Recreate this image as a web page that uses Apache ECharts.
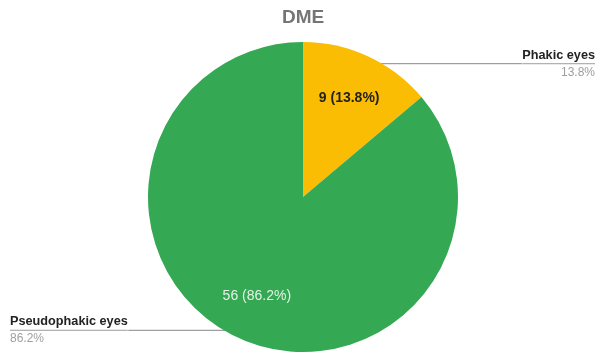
<!DOCTYPE html>
<html><head><meta charset="utf-8">
<script src="https://cdn.jsdelivr.net/npm/echarts@6/dist/echarts.min.js"></script>
<style>html,body{margin:0;padding:0;background:#fff}#c{width:596px;height:354px}</style>
</head><body><div id="c"></div>
<script>
const categories = ['Phakic eyes', 'Pseudophakic eyes'];
const values = [9, 56];
const colors = ['#FBBC04', '#34A853'];
const title = 'DME';

const FONT = '"Liberation Sans", Arial, sans-serif';
const chart = echarts.init(document.getElementById('c'));
const center = [303, 197];
const data = categories.map((n, i) => ({ name: n, value: values[i] }));

chart.setOption({
  animation: false,
  title: { text: title, left: 277, top: 3,
    textStyle: { fontFamily: FONT, fontSize: 19, fontWeight: 'bold', color: '#757575' } },
  series: [
    { type: 'pie', center, radius: [0, 155], startAngle: 90, clockwise: true, silent: true,
      data: data.map((d, i) => ({ ...d, itemStyle: { color: colors[i] } })),
      label: { show: false }, labelLine: { show: false } },
    { type: 'pie', center, radius: [58, 155], startAngle: 90, silent: true, percentPrecision: 1,
      itemStyle: { color: 'transparent' },
      data: data.map((d, i) => ({ ...d, label: i === 0
        ? { color: '#222', fontWeight: 'bold' } : { color: '#e4f2e7', fontWeight: 'normal' } })),
      label: { show: true, position: 'inside', formatter: '{c} ({d}%)', fontFamily: FONT, fontSize: 14 },
      labelLine: { show: false } },
    { type: 'pie', center, radius: [0, 147], startAngle: 90, silent: true, percentPrecision: 1,
      itemStyle: { color: 'transparent' },
      data: data.map((d, i) => ({ ...d, label: { edgeDistance: i === 0 ? 1 : 10 } })),
      label: { show: true, position: 'outside', alignTo: 'edge', distanceToLabelLine: 0,
        formatter: '{n|{b}}\n{hr|}\n{p|{d}%}',
        fontFamily: FONT,
        rich: {
          n: { fontFamily: FONT, fontSize: 12.7, fontWeight: 'bold', color: '#222', lineHeight: 15 },
          hr: { borderColor: '#888', width: '100%', borderWidth: 0.5, height: 0, lineHeight: 2 },
          p: { fontFamily: FONT, fontSize: 12, color: '#9e9e9e', lineHeight: 15 }
        } },
      labelLine: { show: true, length: 0, length2: 10, lineStyle: { color: '#888', width: 1 } } }
  ]
});
</script></body></html>
